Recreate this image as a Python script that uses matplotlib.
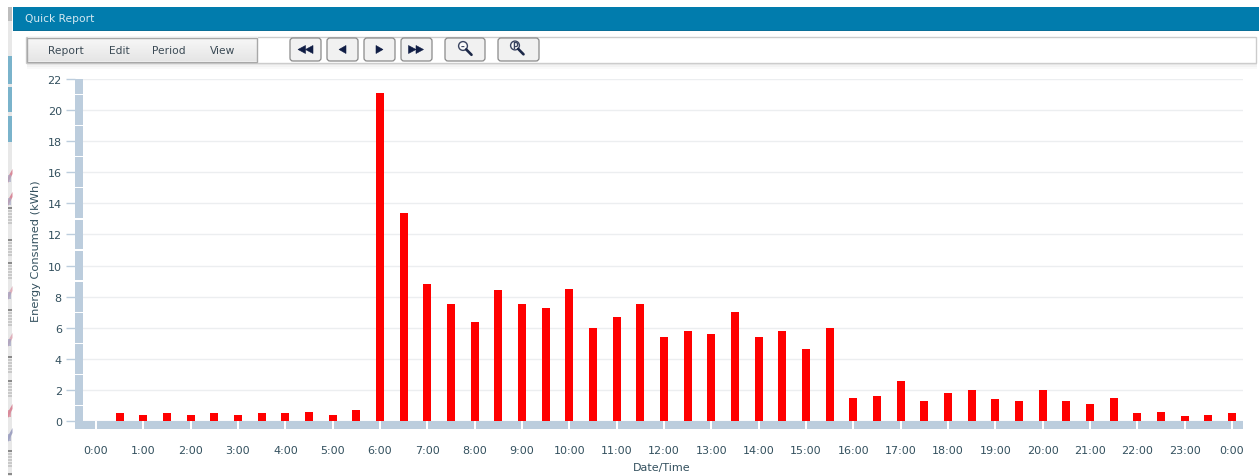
import matplotlib
matplotlib.use("Agg")
import matplotlib.pyplot as plt
from matplotlib.patches import Rectangle, FancyBboxPatch, Polygon, Circle
from matplotlib.colors import LinearSegmentedColormap
import numpy as np

# Half-hourly energy readings, 0:30 through the following 0:00
half_hours = [0.5 * i for i in range(1, 49)]
energy_kwh = [0.5, 0.4, 0.5, 0.4, 0.5, 0.4, 0.5, 0.5, 0.6, 0.4, 0.7, 21.1,
              13.4, 8.8, 7.5, 6.4, 8.4, 7.5, 7.3, 8.5, 6.0, 6.7, 7.5, 5.4,
              5.8, 5.6, 7.0, 5.4, 5.8, 4.6, 6.0, 1.5, 1.6, 2.6, 1.3, 1.8,
              2.0, 1.4, 1.3, 2.0, 1.3, 1.1, 1.5, 0.5, 0.6, 0.3, 0.4, 0.5]
hour_ticks = list(range(25))
hour_labels = [f"{h % 24}:00" for h in hour_ticks]
energy_ticks = list(range(0, 23, 2))
menu_items = [("Report", 48), ("Edit", 109), ("Period", 152), ("View", 210)]

W, H = 1259, 477
TEXT = "#33505e"
STRIP = "#bccddd"
fig = plt.figure(figsize=(W / 100, H / 100), dpi=100, facecolor="white")

# Page chrome, laid out in pixel coordinates
ui = fig.add_axes([0, 0, 1, 1], zorder=0)
ui.set_xlim(0, W)
ui.set_ylim(H, 0)
ui.axis("off")

# Sliver of the page background on the far left
ui.add_patch(Rectangle((8, 8), 4.5, H - 8, fc="#e8e8e8", ec="none"))
ui.add_patch(Rectangle((8, 8), 4.5, 14, fc="#bdbdbd", ec="none"))
for y0, y1 in [(57, 85), (88, 113), (117, 143)]:
    ui.add_patch(Rectangle((8, y0), 4.5, y1 - y0, fc="#7ab3cb", ec="none"))
for y0 in [208, 240, 263, 310, 357, 381, 451, 474]:
    for k in range(0, 18, 3):
        ui.add_patch(Rectangle((8, y0 + k), 4.5, 1.6,
                               fc="#8a8a8a" if k < 3 else "#c9c9c9", ec="none"))
for y0, c1, c2 in [(170, "#d98a9a", "#a9acc6"), (193, "#d98a9a", "#a9acc6"),
                   (287, "#dfb0bb", "#a0a3c2"), (334, "#dfb0bb", "#a0a3c2"),
                   (405, "#d98a9a", "#d98a9a"), (429, "#a0a3c2", "#a0a3c2")]:
    ui.add_patch(Polygon([(8, y0 + 8), (12.5, y0), (12.5, y0 + 5), (8, y0 + 14)],
                         fc=c1, ec="none"))
    ui.add_patch(Rectangle((8, y0 + 6), 3, 7, fc=c2, ec="none", alpha=0.7))

# Title bar
ui.add_patch(Rectangle((13, 8), W - 13, 24, fc="#017cad", ec="none"))
ui.add_patch(Rectangle((13, 31), W - 13, 1, fc="#0a6f98", ec="none"))
ui.text(25, 18.5, "Quick Report", color="#d5e9f2", fontsize=7.7, va="center",
        family="DejaVu Sans")

# Toolbar frame and soft shadow
for i, a in enumerate([0.08, 0.05, 0.025]):
    ui.add_patch(Rectangle((27, 64 + i * 2), 1230, 2, fc="black", alpha=a, ec="none"))
ui.add_patch(Rectangle((26.5, 37.5), 1230, 26.5, fc="white", ec="#cccccc", lw=1))

# Menu block with a vertical gradient
ramp = LinearSegmentedColormap.from_list("menu", ["#f8f8f8", "#e6e6e6"])
ui.imshow(np.linspace(0, 1, 24).reshape(-1, 1), extent=(28, 258, 62, 38),
          cmap=ramp, aspect="auto", zorder=1)
ui.add_patch(Rectangle((27.5, 38.5), 230, 24, fc="none", ec="#a8a8a8", lw=1, zorder=2))
for label, x in menu_items:
    ui.text(x, 50.5, label, color="#3b4a55", fontsize=7.7, va="center", zorder=3)

# Toolbar buttons
buttons = [(290, 321), (327, 358), (364, 395), (401, 432), (445, 485), (498, 539)]
for x0, x1 in buttons:
    ui.add_patch(FancyBboxPatch((x0 + 2, 41), x1 - x0 - 4, 19,
                                boxstyle="round,pad=2,rounding_size=3",
                                fc="#f1f1f1", ec="#8a8a8a", lw=0.9, zorder=2))

NAVY = "#101d45"


def triangle(tip, base, cy=50.5, half=4):
    ui.add_patch(Polygon([(tip, cy), (base, cy - half), (base, cy + half)],
                         fc=NAVY, ec=NAVY, lw=0.4, zorder=3))


triangle(298, 305.5)
triangle(305.5, 313)
triangle(339, 346)
triangle(383, 376)
triangle(416, 408.5)
triangle(423.5, 416)


def magnifier(cx, cy, mark):
    ui.add_patch(Circle((cx, cy), 4.4, fc="#fafafa", ec="#3a4460", lw=1, zorder=3))
    ui.plot([cx + 3.2, cx + 8.5], [cy + 3.4, cy + 8.8], color="#1c2848", lw=1.9,
            solid_capstyle="round", zorder=3)
    ui.text(cx, cy, mark, fontsize=5.5, ha="center", va="center",
            color="#3a4460", weight="bold", zorder=4)


magnifier(463, 47, "–")
magnifier(515, 46.5, "P")

# Chart area: y spans 0-22 kWh, x spans the day in hours
left, right, top, base = 75, 1243, 80, 422
px_per_hour = (1232 - 96) / 24
ax = fig.add_axes([left / W, 1 - base / H, (right - left) / W, (base - top) / H], zorder=1)
ax.patch.set_alpha(0)
ax.set_xlim((left - 96) / px_per_hour, (right - 96) / px_per_hour)
ax.set_ylim(0, 22)
for s in ax.spines.values():
    s.set_visible(False)
ax.set_axisbelow(True)
ax.yaxis.grid(True, color="#eceef0", lw=1)

px_per_kwh = (base - top) / 22
x_min = ax.get_xlim()[0]
strip_w = 8 / px_per_hour
strip_h = 8 / px_per_kwh

# Segmented axis strips
ax.add_patch(Rectangle((x_min, 0), strip_w, 22, fc=STRIP, ec="none", zorder=1.5, clip_on=False))
for v in range(1, 22, 2):
    ax.add_patch(Rectangle((x_min, v - 0.04), strip_w, 0.08, fc="white", ec="none",
                           zorder=1.6, clip_on=False))
ax.add_patch(Rectangle((x_min, -strip_h), ax.get_xlim()[1] - x_min, strip_h, fc=STRIP,
                       ec="none", zorder=1.5, clip_on=False))
for h in hour_ticks:
    ax.add_patch(Rectangle((h - 1 / px_per_hour, -strip_h), 2 / px_per_hour, strip_h,
                           fc="white", ec="none", zorder=1.6, clip_on=False))

ax.bar(half_hours, energy_kwh, width=8 / px_per_hour, color="#ff0000", zorder=3)

ax.set_xticks(hour_ticks, hour_labels)
ax.set_yticks(energy_ticks)
ax.tick_params(axis="x", length=0, pad=17, labelsize=8, labelcolor=TEXT)
ax.tick_params(axis="y", length=6.5, width=1, color=STRIP, pad=3, labelsize=8,
               labelcolor=TEXT)
ax.set_xlabel("Date/Time", fontsize=8, color=TEXT)
ax.set_ylabel("Energy Consumed (kWh)", fontsize=8.2, color=TEXT)
ax.xaxis.set_label_coords((662 - left) / (right - left), -(468 - base) / (base - top),
                          transform=ax.transAxes)
ax.yaxis.set_label_coords((36 - left) / (right - left), 0.5)
ax.xaxis.label.set_verticalalignment("center")
ax.yaxis.label.set_verticalalignment("center")

fig.savefig("out.png", dpi=100)
